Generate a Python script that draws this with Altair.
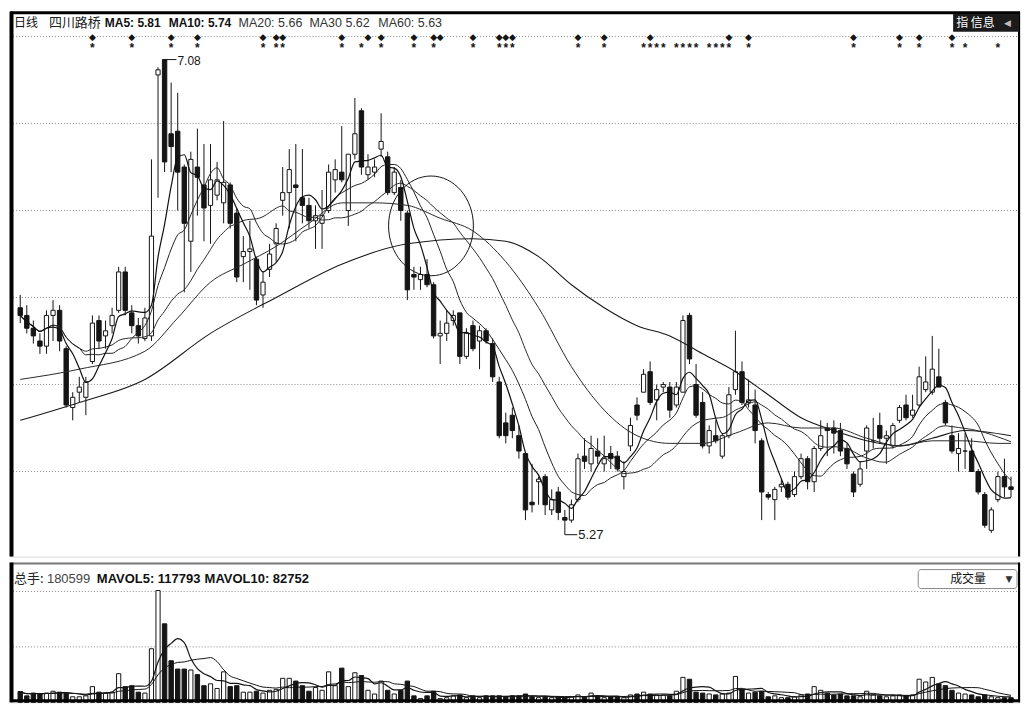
import altair as alt
import pandas as pd

# ---------------- data ----------------
opens = [6.11,6.08,6.03,5.98,5.96,6.08,6.10,5.95,5.72,5.78,5.76,5.90,6.06,6.00,6.04,6.10,6.25,6.09,6.04,5.99,
         6.00,7.02,7.08,6.79,6.80,6.66,6.37,6.66,6.59,6.51,6.55,6.52,6.59,6.48,6.31,6.33,6.30,6.16,6.26,6.36,
         6.53,6.56,6.59,6.54,6.51,6.45,6.44,6.49,6.61,6.64,6.49,6.71,6.88,6.63,6.64,6.73,6.70,6.56,6.58,6.48,
         6.24,6.22,6.24,6.20,6.00,6.01,6.06,6.09,5.92,6.04,5.98,6.02,5.97,5.82,5.66,5.69,5.61,5.54,5.35,5.43,
         5.45,5.32,5.39,5.29,5.28,5.36,5.53,5.50,5.55,5.50,5.54,5.53,5.45,5.57,5.73,5.78,5.86,5.75,5.80,5.80,
         5.73,5.78,6.08,5.81,5.74,5.57,5.61,5.53,5.61,5.79,5.86,5.74,5.73,5.59,5.38,5.36,5.41,5.42,5.38,5.45,
         5.52,5.43,5.56,5.64,5.64,5.63,5.56,5.46,5.42,5.55,5.59,5.65,5.60,5.57,5.67,5.73,5.69,5.73,5.79,5.78,
         5.84,5.74,5.61,5.54,5.55,5.55,5.47,5.38,5.24,5.36,5.45,5.41]
highs = [6.16,6.12,6.06,6.01,6.10,6.14,6.12,5.96,5.78,5.84,5.84,6.08,6.08,6.06,6.11,6.27,6.27,6.12,6.07,6.11,
         6.69,7.05,7.08,6.99,6.95,6.67,6.72,6.81,6.75,6.75,6.68,6.84,6.60,6.50,6.39,6.45,6.31,6.25,6.36,6.44,
         6.66,6.73,6.75,6.73,6.54,6.51,6.57,6.67,6.69,6.82,6.71,6.93,6.89,6.71,6.69,6.87,6.72,6.66,6.61,6.49,
         6.27,6.27,6.30,6.21,6.06,6.10,6.10,6.09,6.03,6.06,6.04,6.03,5.99,5.84,5.70,5.72,5.65,5.54,5.50,5.45,
         5.46,5.40,5.41,5.32,5.36,5.54,5.60,5.61,5.60,5.61,5.57,5.55,5.51,5.68,5.76,5.87,5.90,5.81,5.82,5.82,
         5.82,6.08,6.09,5.89,5.78,5.65,5.67,5.62,5.80,6.02,5.90,5.83,5.79,5.60,5.39,5.41,5.44,5.43,5.47,5.54,
         5.53,5.57,5.67,5.66,5.67,5.66,5.58,5.47,5.51,5.65,5.68,5.70,5.63,5.66,5.73,5.77,5.77,5.88,5.92,6.00,
         5.95,5.75,5.65,5.62,5.62,5.60,5.48,5.39,5.33,5.47,5.52,5.45]
lows = [6.05,6.01,5.97,5.93,5.93,5.98,5.94,5.72,5.67,5.74,5.69,5.89,5.95,5.95,6.01,6.09,6.08,6.01,5.97,5.98,
        5.98,6.54,6.64,6.64,6.49,6.17,6.25,6.47,6.37,6.36,6.53,6.44,6.42,6.21,6.21,6.18,6.12,6.11,6.23,6.29,
        6.47,6.42,6.37,6.44,6.42,6.34,6.34,6.48,6.56,6.60,6.43,6.69,6.63,6.61,6.62,6.70,6.55,6.55,6.45,6.14,
        6.18,6.18,6.19,5.99,5.89,5.98,6.04,5.89,5.91,5.94,5.87,5.97,5.82,5.60,5.58,5.60,5.52,5.28,5.31,5.34,
        5.30,5.30,5.28,5.27,5.27,5.35,5.48,5.47,5.50,5.47,5.48,5.47,5.40,5.55,5.67,5.78,5.73,5.67,5.78,5.68,
        5.72,5.78,5.89,5.68,5.56,5.54,5.58,5.52,5.60,5.77,5.73,5.72,5.58,5.28,5.36,5.28,5.39,5.36,5.37,5.44,
        5.40,5.39,5.55,5.53,5.54,5.53,5.48,5.37,5.41,5.48,5.56,5.58,5.50,5.56,5.66,5.67,5.68,5.72,5.78,5.77,
        5.80,5.65,5.54,5.47,5.48,5.47,5.38,5.25,5.23,5.35,5.37,5.37]
closes = [6.08,6.03,6.00,5.96,6.08,6.10,5.98,5.73,5.76,5.80,5.82,6.05,5.98,6.02,6.08,6.25,6.10,6.04,6.00,6.07,
          6.39,7.04,6.68,6.74,6.64,6.44,6.69,6.62,6.50,6.61,6.61,6.60,6.44,6.23,6.33,6.34,6.14,6.21,6.32,6.42,
          6.56,6.65,6.58,6.51,6.45,6.47,6.47,6.64,6.65,6.61,6.71,6.79,6.66,6.66,6.66,6.76,6.56,6.64,6.49,6.18,
          6.23,6.24,6.20,6.00,6.01,6.05,6.08,5.92,6.01,5.95,6.02,5.98,5.84,5.61,5.61,5.63,5.55,5.32,5.34,5.44,
          5.34,5.36,5.31,5.28,5.34,5.52,5.51,5.56,5.53,5.52,5.52,5.48,5.47,5.65,5.69,5.85,5.74,5.79,5.81,5.71,
          5.80,6.06,5.91,5.69,5.57,5.63,5.59,5.61,5.77,5.86,5.74,5.75,5.63,5.39,5.37,5.40,5.42,5.37,5.45,5.52,
          5.43,5.56,5.61,5.63,5.62,5.55,5.50,5.39,5.48,5.64,5.59,5.60,5.61,5.65,5.72,5.68,5.71,5.84,5.82,5.87,
          5.80,5.66,5.55,5.56,5.55,5.47,5.39,5.26,5.32,5.45,5.41,5.40]
volumes = [117000,70000,100000,90000,100000,120000,110000,100000,60000,60000,70000,170000,110000,100000,110000,
           310000,170000,180000,110000,100000,580000,1210000,850000,450000,360000,360000,350000,300000,180000,200000,
           150000,330000,170000,180000,110000,110000,120000,100000,130000,140000,260000,260000,230000,180000,120000,
           160000,130000,330000,180000,370000,170000,320000,290000,130000,90000,230000,130000,90000,130000,230000,
           70000,40000,70000,120000,40000,50000,70000,80000,50000,70000,50000,70000,70000,70000,60000,
           70000,70000,90000,60000,50000,60000,50000,60000,50000,60000,80000,60000,100000,60000,50000,
           60000,60000,50000,80000,90000,110000,90000,80000,80000,70000,120000,270000,250000,110000,100000,
           90000,80000,90000,100000,280000,140000,100000,110000,120000,60000,70000,50000,50000,60000,80000,
           90000,170000,130000,100000,80000,90000,70000,70000,60000,120000,80000,70000,60000,70000,80000,
           70000,80000,250000,220000,270000,200000,180000,130000,100000,90000,80000,60000,80000,60000,50000,
           50000,50000]

ma30_day = [1,10,20,25,30,35,40,45,50,55,60,65,70,75,80,85,90,95,100,105,110,115,120,125,130,135,140,145,150,152]
ma30_val = [5.83,5.87,5.94,6.07,6.21,6.28,6.35,6.44,6.52,6.52,6.51,6.46,6.41,6.29,6.11,5.88,5.71,5.61,5.58,5.58,
            5.62,5.66,5.64,5.64,5.60,5.57,5.59,5.59,5.58,5.58]
ma60_day = [1,10,20,30,40,50,60,70,75,80,85,90,95,100,105,110,115,120,125,130,135,140,145,152]
ma60_val = [5.67,5.74,5.83,6.01,6.15,6.28,6.36,6.38,6.37,6.31,6.20,6.11,6.04,6.00,5.93,5.86,5.77,5.68,5.63,5.59,
            5.57,5.60,5.63,5.61]

grid_levels = [7.17, 6.83, 6.49, 6.15, 5.81, 5.47]
vol_grid = [600000, 1200000]

diamond_days = [12,18,24,28,38,40,41,50,54,56,61,64,65,70,74,75,76,86,90,97,109,112,128,135,138,143]
star_days = [12,18,24,28,38,40,41,50,53,56,61,64,70,74,75,76,86,90,96,97,98,99,101,102,103,104,
             106,107,108,109,112,128,135,138,143,145,150]

high_mark = {"day": 23, "price": 7.08, "label": "7.08"}
low_mark = {"day": 84, "price": 5.27, "label": "5.27"}
circle_mark = {"day": 63.6, "price": 6.43}

header_cn = ["日线", "四川路桥"]
header_ma = ["MA5: 5.81", "MA10: 5.74", "MA20: 5.66", "MA30  5.62", "MA60: 5.63"]
vol_header = ["总手:", "180599", "MAVOL5: 117793", "MAVOL10: 82752"]

# ---------------- chart ----------------
W, H1, H2 = 1012, 546, 140
FONT = "Liberation Sans, Noto Sans CJK SC, sans-serif"
CJK = "Noto Sans CJK SC"
INK = "#151515"

df = pd.DataFrame({"i": list(range(1, len(closes) + 1)), "open": opens, "high": highs,
                   "low": lows, "close": closes, "vol": volumes})

xsc = alt.Scale(domain=[0.2, 152.61], nice=False, zero=False)
ysc = alt.Scale(domain=[5.1374, 7.2672], nice=False, zero=False)
vsc = alt.Scale(domain=[0, 1512500], nice=False, zero=True)
X = alt.X("i:Q", scale=xsc, axis=None)


def label(text, x, y, size=13, weight="normal", color=INK, font=FONT, align="left"):
    return alt.Chart(pd.DataFrame({"t": [text]})).mark_text(
        align=align, baseline="middle", fontSize=size, fontWeight=weight, color=color, font=font
    ).encode(x=alt.value(x), y=alt.value(y), text="t:N")


base = alt.Chart(df)

grid = alt.Chart(pd.DataFrame({"p": grid_levels})).mark_rule(
    color="#8a8a8a", strokeWidth=1, strokeDash=[1, 2]
).encode(y=alt.Y("p:Q", scale=ysc, axis=None))

wicks = base.mark_rule(color=INK, strokeWidth=1).encode(
    x=X, y=alt.Y("low:Q", scale=ysc, axis=None), y2="high:Q")

down = base.transform_filter("datum.close < datum.open").mark_bar(
    size=4.4, color=INK, stroke=INK, strokeWidth=1
).encode(x=X, y=alt.Y("open:Q", scale=ysc, axis=None), y2="close:Q")

up = base.transform_filter("datum.close >= datum.open").mark_bar(
    size=4.2, fill="white", stroke=INK, strokeWidth=1
).encode(x=X, y=alt.Y("open:Q", scale=ysc, axis=None), y2="close:Q")


def ma_line(n, width=1.0, color="#1d1d1d"):
    return base.transform_window(
        ma="mean(close)", frame=[-(n - 1), 0], sort=[alt.SortField("i", order="ascending")]
    ).mark_line(color=color, strokeWidth=width, interpolate="monotone").encode(
        x=X, y=alt.Y("ma:Q", scale=ysc, axis=None))


ma5 = ma_line(5, 1.2, "#111")
ma10 = ma_line(10, 1.0, "#222")
ma20 = ma_line(20, 1.0, "#2a2a2a")
ma30 = alt.Chart(pd.DataFrame({"i": ma30_day, "m": ma30_val})).mark_line(
    color="#2a2a2a", strokeWidth=1, interpolate="monotone"
).encode(x=X, y=alt.Y("m:Q", scale=ysc, axis=None))
ma60 = alt.Chart(pd.DataFrame({"i": ma60_day, "m": ma60_val})).mark_line(
    color="#1a1a1a", strokeWidth=1.1, interpolate="monotone"
).encode(x=X, y=alt.Y("m:Q", scale=ysc, axis=None))

ellipse = alt.Chart(pd.DataFrame({"i": [circle_mark["day"]], "p": [circle_mark["price"]]})).mark_point(
    shape="M0,-1.176A1,1.176,0,1,1,0,1.176A1,1.176,0,1,1,0,-1.176Z",
    size=7225, filled=False, stroke=INK, strokeWidth=1, opacity=1
).encode(x=X, y=alt.Y("p:Q", scale=ysc, axis=None))

diamonds = alt.Chart(pd.DataFrame({"i": diamond_days})).mark_text(
    text="◆", fontSize=9, font="DejaVu Sans", color=INK, baseline="middle"
).encode(x=X, y=alt.value(25))
stars = alt.Chart(pd.DataFrame({"i": star_days})).mark_text(
    text="*", fontSize=12, fontWeight="bold", font="Liberation Sans", color=INK, baseline="alphabetic"
).encode(x=X, y=alt.value(40))

hi_df = pd.DataFrame({"i": [high_mark["day"]], "p": [high_mark["price"]], "t": [high_mark["label"]]})
hi_line = alt.Chart(hi_df).transform_calculate(i2="datum.i + 1.8").mark_rule(
    color=INK, strokeWidth=1).encode(x=X, x2="i2:Q", y=alt.Y("p:Q", scale=ysc, axis=None))
hi_text = alt.Chart(hi_df).transform_calculate(i2="datum.i + 1.8").mark_text(
    align="left", baseline="middle", dx=1, dy=1, fontSize=12, font=FONT, color=INK
).encode(x=alt.X("i2:Q", scale=xsc, axis=None), y=alt.Y("p:Q", scale=ysc, axis=None), text="t:N")

lo_df = pd.DataFrame({"i": [low_mark["day"]], "p": [low_mark["price"]], "t": [low_mark["label"]]})
lo_v = alt.Chart(lo_df).transform_calculate(p2="datum.p - 0.047").mark_rule(
    color=INK, strokeWidth=1).encode(x=X, y=alt.Y("p:Q", scale=ysc, axis=None), y2="p2:Q")
lo_h = alt.Chart(lo_df).transform_calculate(p2="datum.p - 0.047", i2="datum.i + 1.9").mark_rule(
    color=INK, strokeWidth=1).encode(x=X, x2="i2:Q", y=alt.Y("p2:Q", scale=ysc, axis=None))
lo_text = alt.Chart(lo_df).transform_calculate(p2="datum.p - 0.047", i2="datum.i + 1.9").mark_text(
    align="left", baseline="middle", dx=1, fontSize=13, font=FONT, color=INK
).encode(x=alt.X("i2:Q", scale=xsc, axis=None), y=alt.Y("p2:Q", scale=ysc, axis=None), text="t:N")

frame_top = alt.Chart(pd.DataFrame({"a": [0]})).mark_rule(color="#000", strokeWidth=3).encode(y=alt.value(1))
frame_left = alt.Chart(pd.DataFrame({"a": [0]})).mark_rule(color="#000", strokeWidth=4).encode(x=alt.value(1.5))
frame_right = alt.Chart(pd.DataFrame({"a": [0]})).mark_rule(color="#000", strokeWidth=2).encode(x=alt.value(W - 1))

box = alt.Chart(pd.DataFrame({"a": [0]})).mark_rect(color="#1b1b1b").encode(
    x=alt.value(945), x2=alt.value(W - 1), y=alt.value(2), y2=alt.value(20))

top_layers = [grid, wicks, down, up, ma60, ma30, ma20, ma10, ma5, ellipse, diamonds, stars,
              hi_line, hi_text, lo_v, lo_h, lo_text, frame_top, frame_left, frame_right, box,
              label(header_cn[0], 4, 11, 12, "normal", INK, CJK),
              label(header_cn[1], 39, 11, 13, "normal", "#222", CJK),
              label(header_ma[0], 95, 11, 12, "bold", "#111"),
              label(header_ma[1], 159, 11, 12, "bold", "#111"),
              label(header_ma[2], 229, 11, 12.5, "normal", "#333"),
              label(header_ma[3], 300, 11, 12.5, "normal", "#333"),
              label(header_ma[4], 369, 11, 12.5, "normal", "#333"),
              label("指 信息", 948, 11, 12, "normal", "white", CJK),
              label("◀", 996, 11, 9, "normal", "#bbb", "DejaVu Sans")]
top = alt.layer(*top_layers).properties(width=W, height=H1)

# ---------------- volume panel ----------------
VY = alt.Y("vol:Q", scale=vsc, axis=None)
vgrid = alt.Chart(pd.DataFrame({"v": vol_grid})).mark_rule(
    color="#8a8a8a", strokeWidth=1, strokeDash=[1, 2]).encode(y=alt.Y("v:Q", scale=vsc, axis=None))
vdown = base.transform_filter("datum.close < datum.open").mark_bar(
    size=4.4, color=INK, stroke=INK, strokeWidth=1).encode(x=X, y=VY)
vup = base.transform_filter("datum.close >= datum.open").mark_bar(
    size=4.2, fill="white", stroke=INK, strokeWidth=1).encode(x=X, y=VY)


def mavol(n, width):
    return base.transform_window(
        mv="mean(vol)", frame=[-(n - 1), 0], sort=[alt.SortField("i", order="ascending")]
    ).mark_line(color="#151515", strokeWidth=width, interpolate="monotone").encode(
        x=X, y=alt.Y("mv:Q", scale=vsc, axis=None))


sep = alt.Chart(pd.DataFrame({"a": [0]})).mark_rule(color="#7a7a7a", strokeWidth=2).encode(y=alt.value(1))
vbottom = alt.Chart(pd.DataFrame({"a": [0]})).mark_rule(color="#000", strokeWidth=3).encode(y=alt.value(H2 - 1.5))
dropdown = alt.Chart(pd.DataFrame({"a": [0]})).mark_rect(
    fill="white", stroke="#8a8a8a", strokeWidth=1, cornerRadius=3
).encode(x=alt.value(910), x2=alt.value(1009), y=alt.value(7), y2=alt.value(26))

bottom_layers = [vgrid, vdown, vup, mavol(10, 1.0), mavol(5, 1.2), sep, vbottom,
                 frame_left, frame_right, dropdown,
                 label("成交量", 960, 16, 12, "normal", "#111", CJK, "center"),
                 label("▼", 1001, 16, 9, "normal", "#333", "DejaVu Sans", "center"),
                 label(vol_header[0], 4, 16, 13, "normal", "#222", CJK),
                 label(vol_header[1], 37, 16, 13, "normal", "#444"),
                 label(vol_header[2], 87, 16, 13, "bold", "#111"),
                 label(vol_header[3], 195, 16, 13, "bold", "#111")]
bottom = alt.layer(*bottom_layers).properties(width=W, height=H2)

chart = alt.vconcat(top, bottom, spacing=0).properties(padding=0).configure_view(
    stroke=None).configure(background="white")

chart.save("out.html", embed_options={"renderer": "svg", "actions": False})
